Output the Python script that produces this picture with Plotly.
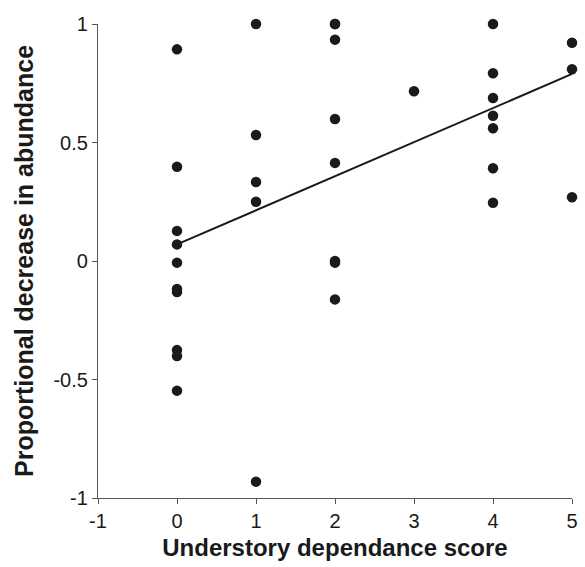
import plotly.graph_objects as go

# Data
score = [0, 0, 0, 0, 0, 0, 0, 0, 0, 0,
         1, 1, 1, 1, 1,
         2, 2, 2, 2, 2, 2, 2, 2,
         3,
         4, 4, 4, 4, 4, 4, 4,
         5, 5, 5]
decrease = [0.893, 0.398, 0.127, 0.070, -0.007, -0.118, -0.131, -0.376, -0.401, -0.547,
            1.0, 0.532, 0.333, 0.250, -0.931,
            1.0, 0.934, 0.599, 0.414, 0.0, -0.007, -0.162, 1.0,
            0.716,
            1.0, 0.792, 0.688, 0.613, 0.560, 0.391, 0.246,
            0.921, 0.809, 0.269]
fit_x = [0, 5]
fit_y = [0.070, 0.789]

x_ticks = [-1, 0, 1, 2, 3, 4, 5]
y_ticks = [-1, -0.5, 0, 0.5, 1]
y_ticklabels = ["-1", "-0.5", "0", "0.5", "1"]

FONT = "Arial, Liberation Sans, sans-serif"
TICK_SIZE = 20

fig = go.Figure()
fig.add_trace(go.Scatter(x=fit_x, y=fit_y, mode="lines",
                         line=dict(color="#1a1a1a", width=2), showlegend=False,
                         cliponaxis=False))
fig.add_trace(go.Scatter(x=score, y=decrease, mode="markers",
                         marker=dict(color="#1a1a1a", size=10.5, line=dict(width=0)),
                         showlegend=False, cliponaxis=False))

line_style = dict(showgrid=False, zeroline=False, showline=True, linecolor="#555555",
                  linewidth=1.2, ticks="outside", ticklen=5, tickwidth=1.2,
                  tickcolor="#555555")

fig.update_layout(
    width=585, height=567,
    margin=dict(l=98, r=7, t=24, b=69),
    plot_bgcolor="white", paper_bgcolor="white",
    font=dict(family=FONT, size=TICK_SIZE, color="#1a1a1a"),
    xaxis=dict(range=[-1, 5], tickvals=x_ticks, ticktext=[str(v) for v in x_ticks],
               tickfont=dict(family=FONT, size=TICK_SIZE, color="#1a1a1a"),
               title=dict(text="<b>Understory dependance score</b>", standoff=8,
                          font=dict(family=FONT, size=24, color="#1a1a1a")),
               **line_style),
    yaxis=dict(range=[-1, 1], tickvals=y_ticks, ticktext=y_ticklabels,
               tickfont=dict(family=FONT, size=TICK_SIZE, color="#1a1a1a"),
               title=dict(text="<b>Proportional decrease in abundance</b>", standoff=12,
                          font=dict(family=FONT, size=25, color="#1a1a1a")),
               **line_style),
)

fig.write_html("out.html")
